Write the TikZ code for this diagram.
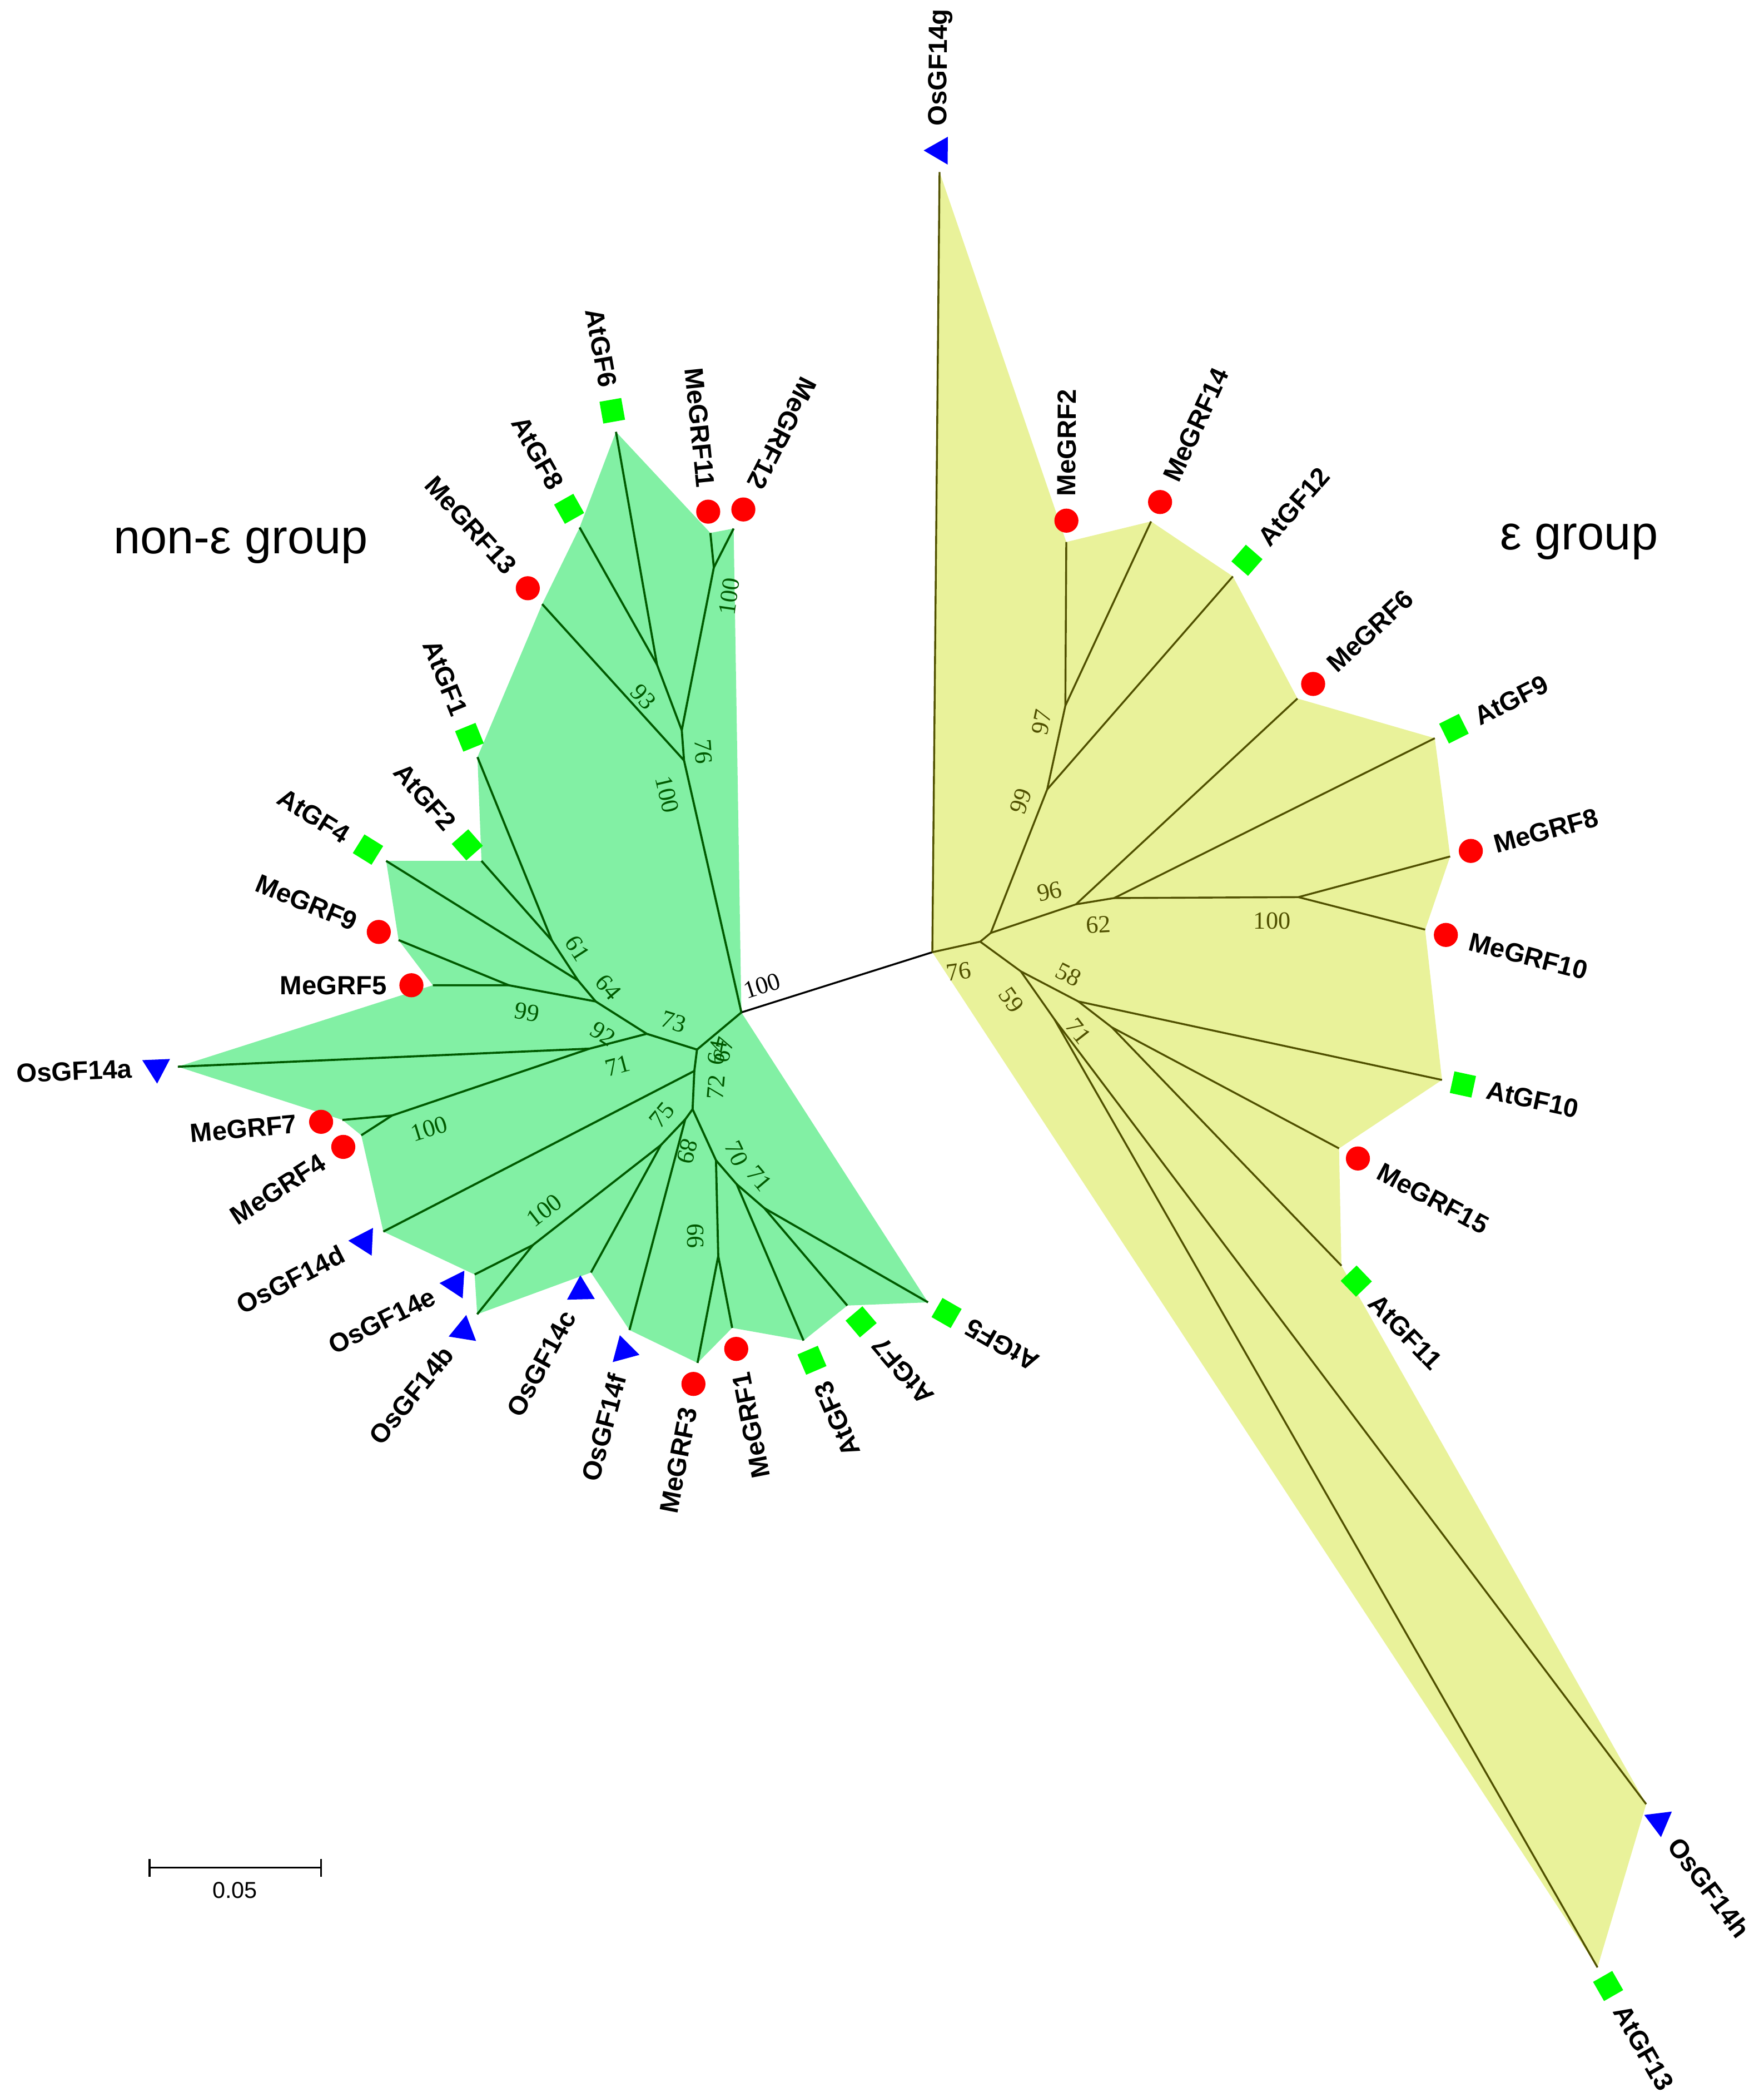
\documentclass[tikz,border=0pt]{standalone}
\usepackage{fontspec}
\setmainfont{Liberation Serif}
\setsansfont{Liberation Sans}
\usepackage{tikz}
\usetikzlibrary{shapes.geometric,calc}
\usepackage{xcolor}
\definecolor{nonfill}{RGB}{130,240,164}
\definecolor{epsfill}{RGB}{233,242,154}
\definecolor{nonline}{RGB}{0,90,0}
\definecolor{epsline}{RGB}{80,80,0}

\begin{document}
\begin{tikzpicture}[x=0.02cm, y=0.02cm,
    nonbranch/.style={draw=nonline, line width=0.9pt},
    epsbranch/.style={draw=epsline, line width=0.8pt},
    memark/.style={circle, fill=red, minimum size=0.36cm, inner sep=0pt},
    atmark/.style={rectangle, fill=green, minimum size=0.33cm, inner sep=0pt},
    osmark/.style={regular polygon, regular polygon sides=3, fill=blue, minimum size=0.48cm, inner sep=0pt},
    leaflabel/.style={font=\sffamily\bfseries\fontsize{11.2}{13}\selectfont, inner sep=0pt},
    bsnon/.style={text=nonline, font=\fontsize{10.5}{12}\selectfont, inner sep=0pt},
    bseps/.style={text=epsline, font=\fontsize{10.5}{12}\selectfont, inner sep=0pt},
    grouptitle/.style={font=\sffamily\fontsize{20.5}{24}\selectfont, inner sep=0pt}]
    \useasboundingbox (0,0) rectangle (1319,-1568);

    % Inner nodes, non-eps group
    \coordinate (R) at (554.5,-757.0);
    \coordinate (A) at (521.3,-784.8);
    \coordinate (B) at (483.7,-773.0);
    \coordinate (B2) at (445.5,-748.8);
    \coordinate (N99) at (380.5,-736.7);
    \coordinate (B5) at (432.4,-733.2);
    \coordinate (B6) at (412.8,-703.3);
    \coordinate (B4) at (441.0,-784.1);
    \coordinate (N100) at (293.2,-834.1);
    \coordinate (C1) at (519.3,-800.8);
    \coordinate (C2) at (518.0,-829.4);
    \coordinate (D) at (512.5,-837.0);
    \coordinate (D2) at (494.3,-856.2);
    \coordinate (E) at (398.5,-931.0);
    \coordinate (F) at (535.5,-867.6);
    \coordinate (G) at (537.2,-939.2);
    \coordinate (H) at (551.0,-885.5);
    \coordinate (I) at (571.7,-903.4);
    \coordinate (U1) at (511.6,-568.6);
    \coordinate (U2) at (509.9,-546.0);
    \coordinate (U3) at (491.4,-497.0);
    \coordinate (U4) at (533.9,-424.3);

    % Inner nodes, eps group
    \coordinate (R2) at (697.3,-712.0);
    \coordinate (R3) at (733.1,-704.1);
    \coordinate (R4) at (741.0,-697.6);
    \coordinate (R5) at (763.5,-726.3);
    \coordinate (R6) at (804.7,-676.2);
    \coordinate (R7) at (833.3,-671.5);
    \coordinate (R8) at (971.1,-670.8);
    \coordinate (R9) at (783.2,-590.3);
    \coordinate (R10) at (796.8,-527.7);
    \coordinate (R11) at (806.5,-748.8);
    \coordinate (R12) at (831.5,-768.1);
    \coordinate (R13) at (788.6,-762.1);

    % Leaf tips, non-eps group
    \coordinate (tAtGF6) at (460.7,-322.9);
    \coordinate (tAtGF8) at (433.5,-394.4);
    \coordinate (tMeGRF13) at (405.5,-451.7);
    \coordinate (tMeGRF11) at (531.3,-398.5);
    \coordinate (tMeGRF12) at (548.7,-395.2);
    \coordinate (tAtGF1) at (357.1,-566.1);
    \coordinate (tAtGF2) at (360.1,-643.7);
    \coordinate (tAtGF4) at (288.8,-643.7);
    \coordinate (tMeGRF9) at (298.1,-702.9);
    \coordinate (tMeGRF5) at (323.7,-736.7);
    \coordinate (tOsGF14a) at (133.0,-797.6);
    \coordinate (tMeGRF7) at (256.1,-837.4);
    \coordinate (tMeGRF4) at (270.2,-848.9);
    \coordinate (tOsGF14d) at (286.7,-920.9);
    \coordinate (tOsGF14e) at (355.0,-953.0);
    \coordinate (tOsGF14b) at (356.9,-982.7);
    \coordinate (tOsGF14c) at (442.0,-951.5);
    \coordinate (tOsGF14f) at (470.8,-994.5);
    \coordinate (tMeGRF3) at (521.7,-1019.1);
    \coordinate (tMeGRF1) at (547.6,-992.9);
    \coordinate (tAtGF3) at (601.0,-1002.4);
    \coordinate (tAtGF7) at (633.7,-976.2);
    \coordinate (tAtGF5) at (694.1,-973.8);

    % Leaf tips, eps group
    \coordinate (tOsGF14g) at (702.7,-128.6);
    \coordinate (tMeGRF2) at (797.5,-405.3);
    \coordinate (tMeGRF14) at (860.9,-389.9);
    \coordinate (tAtGF12) at (922.1,-431.0);
    \coordinate (tMeGRF6) at (970.4,-522.3);
    \coordinate (tAtGF9) at (1073.1,-552.0);
    \coordinate (tMeGRF8) at (1084.6,-640.4);
    \coordinate (tMeGRF10) at (1065.9,-695.1);
    \coordinate (tAtGF10) at (1078.5,-807.5);
    \coordinate (tMeGRF15) at (1001.5,-858.7);
    \coordinate (tAtGF11) at (1003.3,-946.4);
    \coordinate (tOsGF14h) at (1231.2,-1349.0);
    \coordinate (tAtGF13) at (1194.8,-1471.1);

    % Shaded groups
    \fill[nonfill] (R) -- (tAtGF5) -- (tAtGF7) -- (tAtGF3) -- (tMeGRF1) -- (tMeGRF3)
        -- (tOsGF14f) -- (tOsGF14c) -- (tOsGF14b) -- (tOsGF14e) -- (tOsGF14d) -- (tMeGRF4)
        -- (tMeGRF7) -- (tOsGF14a) -- (tMeGRF5) -- (tMeGRF9) -- (tAtGF4) -- (tAtGF2)
        -- (tAtGF1) -- (tMeGRF13) -- (tAtGF8) -- (tAtGF6) -- (tMeGRF11) -- (tMeGRF12) -- cycle;
    \fill[epsfill] (R2) -- (tOsGF14g) -- (tMeGRF2) -- (tMeGRF14) -- (tAtGF12) -- (tMeGRF6)
        -- (tAtGF9) -- (tMeGRF8) -- (tMeGRF10) -- (tAtGF10) -- (tMeGRF15) -- (tAtGF11)
        -- (tOsGF14h) -- (tAtGF13) -- cycle;

    % Central branch
    \draw[line width=0.8pt] (R) -- (R2);
    \node[inner sep=0pt, font=\fontsize{10.5}{12}\selectfont, rotate=17.5] (bsroot) at (570,-737) {100};

    % Branches, non-eps group
    \draw[nonbranch] (R) -- (U1) -- (U2) -- (U3) -- (tAtGF6);
    \draw[nonbranch] (U3) -- (tAtGF8);
    \draw[nonbranch] (U1) -- (tMeGRF13);
    \draw[nonbranch] (U2) -- (U4) -- (tMeGRF11);
    \draw[nonbranch] (U4) -- (tMeGRF12);
    \draw[nonbranch] (R) -- (A) -- (B) -- (B2) -- (N99) -- (tMeGRF5);
    \draw[nonbranch] (N99) -- (tMeGRF9);
    \draw[nonbranch] (B2) -- (B5) -- (tAtGF4);
    \draw[nonbranch] (B5) -- (B6) -- (tAtGF1);
    \draw[nonbranch] (B6) -- (tAtGF2);
    \draw[nonbranch] (B) -- (B4) -- (tOsGF14a);
    \draw[nonbranch] (B4) -- (N100) -- (tMeGRF7);
    \draw[nonbranch] (N100) -- (tMeGRF4);
    \draw[nonbranch] (A) -- (C1) -- (tOsGF14d);
    \draw[nonbranch] (C1) -- (C2) -- (D) -- (tOsGF14f);
    \draw[nonbranch] (D) -- (D2) -- (tOsGF14c);
    \draw[nonbranch] (D2) -- (E) -- (tOsGF14e);
    \draw[nonbranch] (E) -- (tOsGF14b);
    \draw[nonbranch] (C2) -- (F) -- (G) -- (tMeGRF3);
    \draw[nonbranch] (G) -- (tMeGRF1);
    \draw[nonbranch] (F) -- (H) -- (tAtGF3);
    \draw[nonbranch] (H) -- (I) -- (tAtGF7);
    \draw[nonbranch] (I) -- (tAtGF5);

    % Branches, eps group
    \draw[epsbranch] (R2) -- (tOsGF14g);
    \draw[epsbranch] (R2) -- (R3) -- (R4) -- (R9) -- (R10) -- (tMeGRF2);
    \draw[epsbranch] (R10) -- (tMeGRF14);
    \draw[epsbranch] (R9) -- (tAtGF12);
    \draw[epsbranch] (R4) -- (R6) -- (tMeGRF6);
    \draw[epsbranch] (R6) -- (R7) -- (tAtGF9);
    \draw[epsbranch] (R7) -- (R8) -- (tMeGRF8);
    \draw[epsbranch] (R8) -- (tMeGRF10);
    \draw[epsbranch] (R3) -- (R5) -- (R11) -- (tAtGF10);
    \draw[epsbranch] (R11) -- (R12) -- (tMeGRF15);
    \draw[epsbranch] (R12) -- (tAtGF11);
    \draw[epsbranch] (R5) -- (R13) -- (tOsGF14h);
    \draw[epsbranch] (R13) -- (tAtGF13);

    % Bootstrap values, non-eps group
    \node[bsnon, rotate=-77] (bs1) at (499,-594) {100};
    \node[bsnon, rotate=-48] (bs2) at (481,-521) {93};
    \node[bsnon, rotate=-86] (bs3) at (526,-562) {76};
    \node[bsnon, rotate=82] (bs4) at (545.5,-446) {100};
    \node[bsnon, rotate=-57] (bs5) at (432,-709) {61};
    \node[bsnon, rotate=-50] (bs6) at (455,-738) {64};
    \node[bsnon, rotate=-10] (bs7) at (394,-757) {99};
    \node[bsnon, rotate=-32] (bs8) at (451,-773) {92};
    \node[bsnon, rotate=-17] (bs9) at (504,-764) {73};
    \node[bsnon, rotate=15] (bs10) at (462,-797) {71};
    \node[bsnon, rotate=17] (bs11) at (321,-844) {100};
    \node[bsnon, rotate=80] (bs12) at (536.5,-787) {64};
    \node[bsnon, rotate=75] (bs13) at (541,-785) {67};
    \node[bsnon, rotate=85] (bs14) at (535.6,-813) {72};
    \node[bsnon, rotate=50] (bs15) at (495,-834) {75};
    \node[bsnon, rotate=-105] (bs16) at (514,-861) {89};
    \node[bsnon, rotate=-65] (bs17) at (550.8,-862.5) {70};
    \node[bsnon, rotate=-50] (bs18) at (568,-881) {71};
    \node[bsnon, rotate=38] (bs19) at (407,-905) {100};
    \node[bsnon, rotate=-90] (bs20) at (520,-924) {66};

    % Bootstrap values, eps group
    \node[bseps, rotate=78] (be1) at (779,-540) {97};
    \node[bseps, rotate=70] (be2) at (763.5,-599) {99};
    \node[bseps, rotate=12] (be3) at (785,-666.5) {96};
    \node[bseps, rotate=3] (be4) at (821.5,-691.6) {62};
    \node[bseps] (be5) at (951.4,-688.7) {100};
    \node[bseps, rotate=8] (be6) at (717,-726.3) {76};
    \node[bseps, rotate=-55] (be7) at (756.4,-747.8) {59};
    \node[bseps, rotate=-27] (be8) at (799.3,-728.8) {58};
    \node[bseps, rotate=-52] (be9) at (806.5,-771) {71};

    % Leaves, non-eps group
    \node[atmark, rotate=100.0] (mAtGF6) at ($(tAtGF6)+(100.0:16)$) {};
    \node[leaflabel, anchor=east, rotate=-80.0] (lAtGF6) at ($(tAtGF6)+(100.0:34)$) {AtGF6};
    \node[atmark, rotate=119.4] (mAtGF8) at ($(tAtGF8)+(119.4:16)$) {};
    \node[leaflabel, anchor=east, rotate=-60.6] (lAtGF8) at ($(tAtGF8)+(119.4:34)$) {AtGF8};
    \node[memark] (mMeGRF13) at ($(tMeGRF13)+(132.2:16)$) {};
    \node[leaflabel, anchor=east, rotate=-47.8] (lMeGRF13) at ($(tMeGRF13)+(132.2:34)$) {MeGRF13};
    \node[memark] (mMeGRF11) at ($(tMeGRF11)+(95.8:16)$) {};
    \node[leaflabel, anchor=east, rotate=-84.2] (lMeGRF11) at ($(tMeGRF11)+(95.8:34)$) {MeGRF11};
    \node[memark] (mMeGRF12) at ($(tMeGRF12)+(63.0:16)$) {};
    \node[leaflabel, anchor=east, rotate=-117.0] (lMeGRF12) at ($(tMeGRF12)+(63.0:34)$) {MeGRF12};
    \node[atmark, rotate=112.1] (mAtGF1) at ($(tAtGF1)+(112.1:16)$) {};
    \node[leaflabel, anchor=east, rotate=-67.9] (lAtGF1) at ($(tAtGF1)+(112.1:34)$) {AtGF1};
    \node[atmark, rotate=131.5] (mAtGF2) at ($(tAtGF2)+(131.5:16)$) {};
    \node[leaflabel, anchor=east, rotate=-48.5] (lAtGF2) at ($(tAtGF2)+(131.5:34)$) {AtGF2};
    \node[atmark, rotate=148.1] (mAtGF4) at ($(tAtGF4)+(148.1:16)$) {};
    \node[leaflabel, anchor=east, rotate=-31.9] (lAtGF4) at ($(tAtGF4)+(148.1:34)$) {AtGF4};
    \node[memark] (mMeGRF9) at ($(tMeGRF9)+(157.7:16)$) {};
    \node[leaflabel, anchor=east, rotate=-22.3] (lMeGRF9) at ($(tMeGRF9)+(157.7:34)$) {MeGRF9};
    \node[memark] (mMeGRF5) at ($(tMeGRF5)+(180.0:16)$) {};
    \node[leaflabel, anchor=east] (lMeGRF5) at ($(tMeGRF5)+(180.0:34)$) {MeGRF5};
    \node[osmark, rotate=182.4] (mOsGF14a) at ($(tOsGF14a)+(182.4:16)$) {};
    \node[leaflabel, anchor=east, rotate=2.4] (lOsGF14a) at ($(tOsGF14a)+(182.4:34)$) {OsGF14a};
    \node[memark] (mMeGRF7) at ($(tMeGRF7)+(185.1:16)$) {};
    \node[leaflabel, anchor=east, rotate=5.1] (lMeGRF7) at ($(tMeGRF7)+(185.1:34)$) {MeGRF7};
    \node[memark] (mMeGRF4) at ($(tMeGRF4)+(212.8:16)$) {};
    \node[leaflabel, anchor=east, rotate=32.8] (lMeGRF4) at ($(tMeGRF4)+(212.8:34)$) {MeGRF4};
    \node[osmark, rotate=207.3] (mOsGF14d) at ($(tOsGF14d)+(207.3:16)$) {};
    \node[leaflabel, anchor=east, rotate=27.3] (lOsGF14d) at ($(tOsGF14d)+(207.3:34)$) {OsGF14d};
    \node[osmark, rotate=206.5] (mOsGF14e) at ($(tOsGF14e)+(206.5:16)$) {};
    \node[leaflabel, anchor=east, rotate=26.5] (lOsGF14e) at ($(tOsGF14e)+(206.5:34)$) {OsGF14e};
    \node[osmark, rotate=230.8] (mOsGF14b) at ($(tOsGF14b)+(230.8:16)$) {};
    \node[leaflabel, anchor=east, rotate=50.8] (lOsGF14b) at ($(tOsGF14b)+(230.8:34)$) {OsGF14b};
    \node[osmark, rotate=241.4] (mOsGF14c) at ($(tOsGF14c)+(241.4:16)$) {};
    \node[leaflabel, anchor=east, rotate=61.4] (lOsGF14c) at ($(tOsGF14c)+(241.4:34)$) {OsGF14c};
    \node[osmark, rotate=255.2] (mOsGF14f) at ($(tOsGF14f)+(255.2:16)$) {};
    \node[leaflabel, anchor=east, rotate=75.2] (lOsGF14f) at ($(tOsGF14f)+(255.2:34)$) {OsGF14f};
    \node[memark] (mMeGRF3) at ($(tMeGRF3)+(259.0:16)$) {};
    \node[leaflabel, anchor=east, rotate=79.0] (lMeGRF3) at ($(tMeGRF3)+(259.0:34)$) {MeGRF3};
    \node[memark] (mMeGRF1) at ($(tMeGRF1)+(281.0:16)$) {};
    \node[leaflabel, anchor=east, rotate=101.0] (lMeGRF1) at ($(tMeGRF1)+(281.0:34)$) {MeGRF1};
    \node[atmark, rotate=293.2] (mAtGF3) at ($(tAtGF3)+(293.2:16)$) {};
    \node[leaflabel, anchor=east, rotate=113.2] (lAtGF3) at ($(tAtGF3)+(293.2:34)$) {AtGF3};
    \node[atmark, rotate=310.4] (mAtGF7) at ($(tAtGF7)+(310.4:16)$) {};
    \node[leaflabel, anchor=east, rotate=130.4] (lAtGF7) at ($(tAtGF7)+(310.4:34)$) {AtGF7};
    \node[atmark, rotate=330.1] (mAtGF5) at ($(tAtGF5)+(330.1:16)$) {};
    \node[leaflabel, anchor=east, rotate=150.1] (lAtGF5) at ($(tAtGF5)+(330.1:34)$) {AtGF5};

    % Leaves, eps group
    \node[osmark, rotate=89.5] (mOsGF14g) at ($(tOsGF14g)+(89.5:16)$) {};
    \node[leaflabel, anchor=west, rotate=89.5] (lOsGF14g) at ($(tOsGF14g)+(89.5:34)$) {OsGF14g};
    \node[memark] (mMeGRF2) at ($(tMeGRF2)+(89.7:16)$) {};
    \node[leaflabel, anchor=west, rotate=89.7] (lMeGRF2) at ($(tMeGRF2)+(89.7:34)$) {MeGRF2};
    \node[memark] (mMeGRF14) at ($(tMeGRF14)+(65.1:16)$) {};
    \node[leaflabel, anchor=west, rotate=65.1] (lMeGRF14) at ($(tMeGRF14)+(65.1:34)$) {MeGRF14};
    \node[atmark, rotate=48.9] (mAtGF12) at ($(tAtGF12)+(48.9:16)$) {};
    \node[leaflabel, anchor=west, rotate=48.9] (lAtGF12) at ($(tAtGF12)+(48.9:34)$) {AtGF12};
    \node[memark] (mMeGRF6) at ($(tMeGRF6)+(42.9:16)$) {};
    \node[leaflabel, anchor=west, rotate=42.9] (lMeGRF6) at ($(tMeGRF6)+(42.9:34)$) {MeGRF6};
    \node[atmark, rotate=26.5] (mAtGF9) at ($(tAtGF9)+(26.5:16)$) {};
    \node[leaflabel, anchor=west, rotate=26.5] (lAtGF9) at ($(tAtGF9)+(26.5:34)$) {AtGF9};
    \node[memark] (mMeGRF8) at ($(tMeGRF8)+(15.0:16)$) {};
    \node[leaflabel, anchor=west, rotate=15.0] (lMeGRF8) at ($(tMeGRF8)+(15.0:34)$) {MeGRF8};
    \node[memark] (mMeGRF10) at ($(tMeGRF10)+(-14.4:16)$) {};
    \node[leaflabel, anchor=west, rotate=-14.4] (lMeGRF10) at ($(tMeGRF10)+(-14.4:34)$) {MeGRF10};
    \node[atmark, rotate=-12.2] (mAtGF10) at ($(tAtGF10)+(-12.2:16)$) {};
    \node[leaflabel, anchor=west, rotate=-12.2] (lAtGF10) at ($(tAtGF10)+(-12.2:34)$) {AtGF10};
    \node[memark] (mMeGRF15) at ($(tMeGRF15)+(-28.1:16)$) {};
    \node[leaflabel, anchor=west, rotate=-28.1] (lMeGRF15) at ($(tMeGRF15)+(-28.1:34)$) {MeGRF15};
    \node[atmark, rotate=-46.1] (mAtGF11) at ($(tAtGF11)+(-46.1:16)$) {};
    \node[leaflabel, anchor=west, rotate=-46.1] (lAtGF11) at ($(tAtGF11)+(-46.1:34)$) {AtGF11};
    \node[osmark, rotate=-53.0] (mOsGF14h) at ($(tOsGF14h)+(-53.0:16)$) {};
    \node[leaflabel, anchor=west, rotate=-53.0] (lOsGF14h) at ($(tOsGF14h)+(-53.0:34)$) {OsGF14h};
    \node[atmark, rotate=-60.2] (mAtGF13) at ($(tAtGF13)+(-60.2:16)$) {};
    \node[leaflabel, anchor=west, rotate=-60.2] (lAtGF13) at ($(tAtGF13)+(-60.2:34)$) {AtGF13};

    % Group titles
    \node[grouptitle] (tnon) at (180,-408) {non-ε group};
    \node[grouptitle] (teps) at (1181,-405) {ε group};

    % Scale bar
    \coordinate (sbl) at (111.9,-1396.4);
    \coordinate (sbr) at (240.0,-1396.4);
    \draw[line width=0.8pt] (sbl) -- (sbr);
    \draw[line width=0.8pt] ($(sbl)+(0,6.5)$) -- ($(sbl)+(0,-7)$);
    \draw[line width=0.8pt] ($(sbr)+(0,6.5)$) -- ($(sbr)+(0,-7)$);
    \node[font=\sffamily\fontsize{9.8}{12}\selectfont, inner sep=0pt] (sblabel) at (175.6,-1413.4) {0.05};
\end{tikzpicture}
\end{document}
